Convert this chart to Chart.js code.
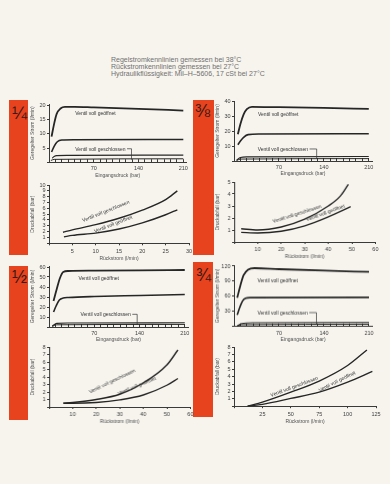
<!doctype html>
<html lang="de">
<head>
<meta charset="utf-8">
<title>Regelstrom- und Rückstromkennlinien</title>
<style>
  * { margin: 0; padding: 0; }
  body {
    width: 390px; height: 484px; overflow: hidden; position: relative;
    background: #f7f4ee;
    font-family: "Liberation Sans", Arial, sans-serif;
  }
  .head {
    position: absolute; left: 111px; top: 56px;
    font-size: 7px; line-height: 7.2px; color: #707070; white-space: nowrap;
  }
  .tab { position: absolute; background: #e8431f; }
  .tab span { position: absolute; font-size: 18px; line-height: 18px; color: #3a1a14; }
  .box { position: absolute; }
</style>
</head>
<body>
<div class="head">Regelstromkennlinien gemessen bei 38°C<br>Rückstromkennlinien gemessen bei 27°C<br>Hydraulikflüssigkeit: Mil–H–5606, 17 cSt bei 27°C</div>

<div class="tab" style="left:9px;top:100px;width:19px;height:155px"><span style="left:3px;top:4px">¼</span></div>
<div class="tab" style="left:193px;top:100px;width:21px;height:155px"><span style="left:2px;top:2px">⅜</span></div>
<div class="tab" style="left:9px;top:266px;width:19px;height:154px"><span style="left:3px;top:2px">½</span></div>
<div class="tab" style="left:193px;top:262px;width:20px;height:155px"><span style="left:3px;top:4px">¾</span></div>

<div class="box" id="boxA"><canvas id="cA"></canvas></div>
<div class="box" id="boxB"><canvas id="cB"></canvas></div>
<div class="box" id="boxC"><canvas id="cC"></canvas></div>
<div class="box" id="boxD"><canvas id="cD"></canvas></div>
<div class="box" id="boxE"><canvas id="cE"></canvas></div>
<div class="box" id="boxF"><canvas id="cF"></canvas></div>
<div class="box" id="boxG"><canvas id="cG"></canvas></div>
<div class="box" id="boxH"><canvas id="cH"></canvas></div>

<script src="https://cdn.jsdelivr.net/npm/chart.js"></script>
<script>
// ---- data: regulated flow (l/min) over inlet pressure (bar) ----
// 1/4
const pA_open = [4, 8, 12, 18, 25, 40, 70, 140, 210];
const qA_open = [9, 13.5, 17, 18.9, 19.5, 19.5, 19.3, 18.8, 18.2];
const pA_mid = [4, 8, 13, 20, 40, 210];
const qA_mid = [3.6, 5.6, 7.2, 7.8, 7.9, 8.0];
const pA_shut1 = [5, 8, 12, 30, 210];
const qA_shut1 = [1.4, 2.0, 2.3, 2.4, 2.5];
const pA_shut2 = [3, 8, 210];
const qA_shut2 = [0.6, 1.0, 1.2];
// 3/8
const pC_open = [6, 10, 15, 20, 28, 70, 140, 210];
const qC_open = [18, 25, 31.5, 35, 36.6, 36.3, 35.8, 35.2];
const pC_mid = [6, 10, 15, 22, 40, 210];
const qC_mid = [11, 13.5, 16, 17.8, 18.2, 18.4];
const pC_shut1 = [4, 10, 20, 210];
const qC_shut1 = [0.5, 2.3, 2.8, 3.0];
const pC_shut2 = [4, 10, 210];
const qC_shut2 = [0.3, 1.3, 1.6];
// 1/2
const pE_open = [7, 12, 17, 22, 30, 70, 140, 210];
const qE_open = [26, 38, 49, 55, 56, 56.3, 56.6, 57];
const pE_mid = [7, 11, 16, 22, 30, 70, 140, 210];
const qE_mid = [15, 21, 27, 29, 29.5, 30.5, 31.5, 32.5];
const pE_shut1 = [5, 12, 30, 210];
const qE_shut1 = [1, 3.6, 4.0, 4.2];
const pE_shut2 = [5, 12, 210];
const qE_shut2 = [0.5, 2.2, 2.6];
// 3/4
const pG_open = [5, 10, 15, 22, 32, 70, 140, 210];
const qG_open = [57, 82, 102, 113, 116, 114, 111, 108.5];
const pG_mid = [5, 9, 13, 18, 25, 210];
const qG_mid = [23, 38, 50, 56, 57.5, 58];
const pG_shut1 = [5, 12, 30, 210];
const qG_shut1 = [1, 6, 7.5, 8];
const pG_shut2 = [5, 12, 210];
const qG_shut2 = [0.5, 3.5, 4.5];

// ---- data: pressure drop (bar) over return flow (l/min) ----
const rB_shut = [3, 5, 10, 15, 20, 25, 27.5];
const dB_shut = [1.9, 2.3, 3.2, 4.3, 5.7, 7.5, 9.0];
const rB_open = [3.2, 5, 10, 15, 20, 25, 27.5];
const dB_open = [1.1, 1.35, 1.75, 2.45, 3.5, 4.9, 5.75];

const rD_shut = [3, 10, 20, 30, 40, 45, 48.5];
const dD_shut = [1.1, 1.0, 1.25, 1.9, 3.0, 3.8, 4.8];
const rD_open = [3, 10, 20, 30, 40, 49.5];
const dD_open = [0.8, 0.75, 0.9, 1.35, 2.1, 2.95];

const rF_shut = [6, 10, 20, 30, 40, 50, 54.7];
const dF_shut = [0.5, 0.6, 1.0, 1.7, 3.2, 5.6, 7.6];
const rF_open = [6, 10, 20, 30, 40, 50, 54.7];
const dF_open = [0.5, 0.5, 0.6, 0.95, 1.6, 2.9, 3.8];

const rH_shut = [12, 25, 50, 75, 100, 117];
const dH_shut = [0, 0.55, 1.9, 3.4, 5.5, 7.6];
const rH_open = [12, 25, 50, 75, 100, 121.8];
const dH_open = [0, 0.25, 1.05, 1.9, 3.25, 4.7];

const OPEN = 'Ventil voll geöffnet';
const SHUT = 'Ventil voll geschlossen';

Chart.defaults.font.family = '"Liberation Sans", Arial, sans-serif';
Chart.defaults.color = '#404040';

const INK = '#262626';
const AXIS = '#3a3a3a';
const W_Y = 20, PAD_T = 5, PAD_R = 9;

// writes the curve labels (and the leader line of the "closed" label)
const notes = {
  id: 'notes',
  afterDatasetsDraw(chart, args, opts) {
    const { ctx } = chart;
    const x = chart.scales.x, y = chart.scales.y;
    ctx.save();
    ctx.fillStyle = '#333';
    ctx.strokeStyle = '#333';
    ctx.lineWidth = 0.7;
    ctx.font = '5px "Liberation Sans", Arial, sans-serif';
    ctx.textBaseline = 'alphabetic';
    for (const n of opts.items || []) {
      const px = x.getPixelForValue(n.x), py = y.getPixelForValue(n.y);
      ctx.save();
      ctx.translate(px, py);
      ctx.rotate(-(n.angle || 0) * Math.PI / 180);
      ctx.fillText(n.text, 0, 0);
      ctx.restore();
      if (n.leader) {
        const w = ctx.measureText(n.text).width;
        const lx = x.getPixelForValue(n.leader[0]);
        const ly = y.getPixelForValue(n.leader[1]);
        ctx.beginPath();
        ctx.moveTo(px + w + 1.5, py - 1.8);
        ctx.lineTo(lx, py - 1.8);
        ctx.lineTo(lx, ly);
        ctx.stroke();
      }
    }
    ctx.restore();
  }
};

function curve(xs, ys, w) {
  return {
    data: xs.map((v, i) => ({ x: v, y: ys[i] })),
    borderColor: INK, borderWidth: w, pointRadius: 0,
    cubicInterpolationMode: 'monotone', fill: false
  };
}

function panel(id, box, ax, sets, items) {
  const upper = ax.kind === 'flow';
  const hx = upper ? 17 : 19;
  const el = document.getElementById('box' + id);
  el.style.left = (box.left - W_Y) + 'px';
  el.style.top = (box.top - PAD_T) + 'px';
  el.style.width = (box.right - box.left + W_Y + PAD_R) + 'px';
  el.style.height = (box.bottom - box.top + PAD_T + hx) + 'px';

  new Chart(document.getElementById('c' + id), {
    type: 'line',
    data: { datasets: sets },
    plugins: [notes],
    options: {
      responsive: true, maintainAspectRatio: false, animation: false, events: [],
      layout: { padding: { top: PAD_T, right: PAD_R, left: 0, bottom: 0 } },
      plugins: { legend: { display: false }, tooltip: { enabled: false }, notes: { items } },
      scales: {
        x: {
          type: 'linear', min: ax.xmin, max: ax.xmax,
          border: { color: AXIS, width: 1 },
          grid: { drawOnChartArea: false, color: AXIS, tickLength: upper ? -3 : 2 },
          ticks: {
            stepSize: ax.xstep, autoSkip: false, maxRotation: 0, includeBounds: false,
            padding: upper ? 6 : 2.5, font: { size: 5.5 },
            callback: ax.xlabel
          },
          title: { display: true, text: ax.xtitle, color: '#505050', font: { size: 5 }, padding: { top: 0, bottom: 1 } },
          afterFit: s => { s.height = hx; s.paddingLeft = 0; s.paddingRight = 0; }
        },
        y: {
          min: 0, max: ax.ymax,
          border: { color: AXIS, width: 1 },
          grid: { drawOnChartArea: false, color: AXIS, tickLength: 2 },
          ticks: {
            stepSize: ax.ystep, autoSkip: false, includeBounds: false,
            padding: 1.5, font: { size: 5.5 },
            callback: v => v === 0 ? '' : v
          },
          title: { display: true, text: ax.ytitle, color: '#505050', font: { size: 5 }, padding: { top: 1, bottom: 0 } },
          afterFit: s => { s.width = W_Y; s.paddingTop = 0; s.paddingBottom = 0; }
        }
      }
    }
  });
}

const flowAxis = (ymax, ystep) => ({
  kind: 'flow', xmin: 0, xmax: 215, xstep: 10,
  xlabel: v => (v > 0 && v % 70 === 0) ? v : '',
  xtitle: 'Eingangsdruck (bar)', ymax, ystep, ytitle: 'Geregelter Strom (l/min)'
});
const dropAxis = (xmax, xstep, ymax) => ({
  kind: 'drop', xmin: 0, xmax, xstep,
  xlabel: v => v === 0 ? '' : v,
  xtitle: 'Rückstrom (l/min)', ymax, ystep: 1, ytitle: 'Druckabfall (bar)'
});

// 1/4
panel('A', { left: 48.5, right: 186, top: 104.3, bottom: 162.5 }, flowAxis(20.5, 5), [
  curve(pA_open, qA_open, 1.8), curve(pA_mid, qA_mid, 1.6),
  curve(pA_shut1, qA_shut1, 1.1), curve(pA_shut2, qA_shut2, 1.0)
], [
  { text: OPEN, x: 41, y: 16.5 },
  { text: SHUT, x: 41, y: 4.1, leader: [129, 0.9] }
]);
panel('B', { left: 49, right: 189, top: 184.7, bottom: 243 }, dropAxis(30, 5, 10), [
  curve(rB_shut, dB_shut, 1.4), curve(rB_open, dB_open, 1.4)
], [
  { text: SHUT, x: 7.3, y: 3.65, angle: 21.8 },
  { text: OPEN, x: 9.85, y: 1.77, angle: 21.5 }
]);
// 3/8
panel('C', { left: 234, right: 372, top: 101, bottom: 161 }, flowAxis(40.5, 10), [
  curve(pC_open, qC_open, 1.8), curve(pC_mid, qC_mid, 1.6),
  curve(pC_shut1, qC_shut1, 1.1), curve(pC_shut2, qC_shut2, 1.0)
], [
  { text: OPEN, x: 37.4, y: 30.7 },
  { text: SHUT, x: 37, y: 6.9, leader: [128.8, 1.5] }
]);
panel('D', { left: 234.3, right: 374.7, top: 182.3, bottom: 242.3 }, dropAxis(60, 10, 5), [
  curve(rD_shut, dD_shut, 1.4), curve(rD_open, dD_open, 1.4)
], [
  { text: SHUT, x: 16.7, y: 1.58, angle: 17.8 },
  { text: OPEN, x: 30.9, y: 1.72, angle: 20.4 }
]);
// 1/2
panel('E', { left: 48.5, right: 187.5, top: 265.7, bottom: 326.7 }, flowAxis(61, 10), [
  curve(pE_open, qE_open, 1.8), curve(pE_mid, qE_mid, 1.6),
  curve(pE_shut1, qE_shut1, 1.1), curve(pE_shut2, qE_shut2, 1.0)
], [
  { text: OPEN, x: 45.6, y: 46.9 },
  { text: SHUT, x: 48.7, y: 10.9, leader: [136.4, 2.5] }
]);
panel('F', { left: 49.3, right: 189.7, top: 346.7, bottom: 406.7 }, dropAxis(60, 10, 8), [
  curve(rF_shut, dF_shut, 1.4), curve(rF_open, dF_open, 1.4)
], [
  { text: SHUT, x: 17.4, y: 1.79, angle: 25.8 },
  { text: OPEN, x: 29.5, y: 1.56, angle: 22.6 }
]);
// 3/4
panel('G', { left: 234.3, right: 372.5, top: 265, bottom: 325.7 }, flowAxis(122, 30), [
  curve(pG_open, qG_open, 1.8), curve(pG_mid, qG_mid, 1.6),
  curve(pG_shut1, qG_shut1, 1.1), curve(pG_shut2, qG_shut2, 1.0)
], [
  { text: OPEN, x: 36.4, y: 88.8 },
  { text: SHUT, x: 36.4, y: 24, leader: [128.3, 4] }
]);
panel('H', { left: 234.3, right: 376.3, top: 346.8, bottom: 406 }, dropAxis(125, 25, 8), [
  curve(rH_shut, dH_shut, 1.4), curve(rH_open, dH_open, 1.4)
], [
  { text: SHUT, x: 32.9, y: 1.26, angle: 20.6 },
  { text: OPEN, x: 75.4, y: 1.93, angle: 26.6 }
]);
</script>
</body>
</html>
